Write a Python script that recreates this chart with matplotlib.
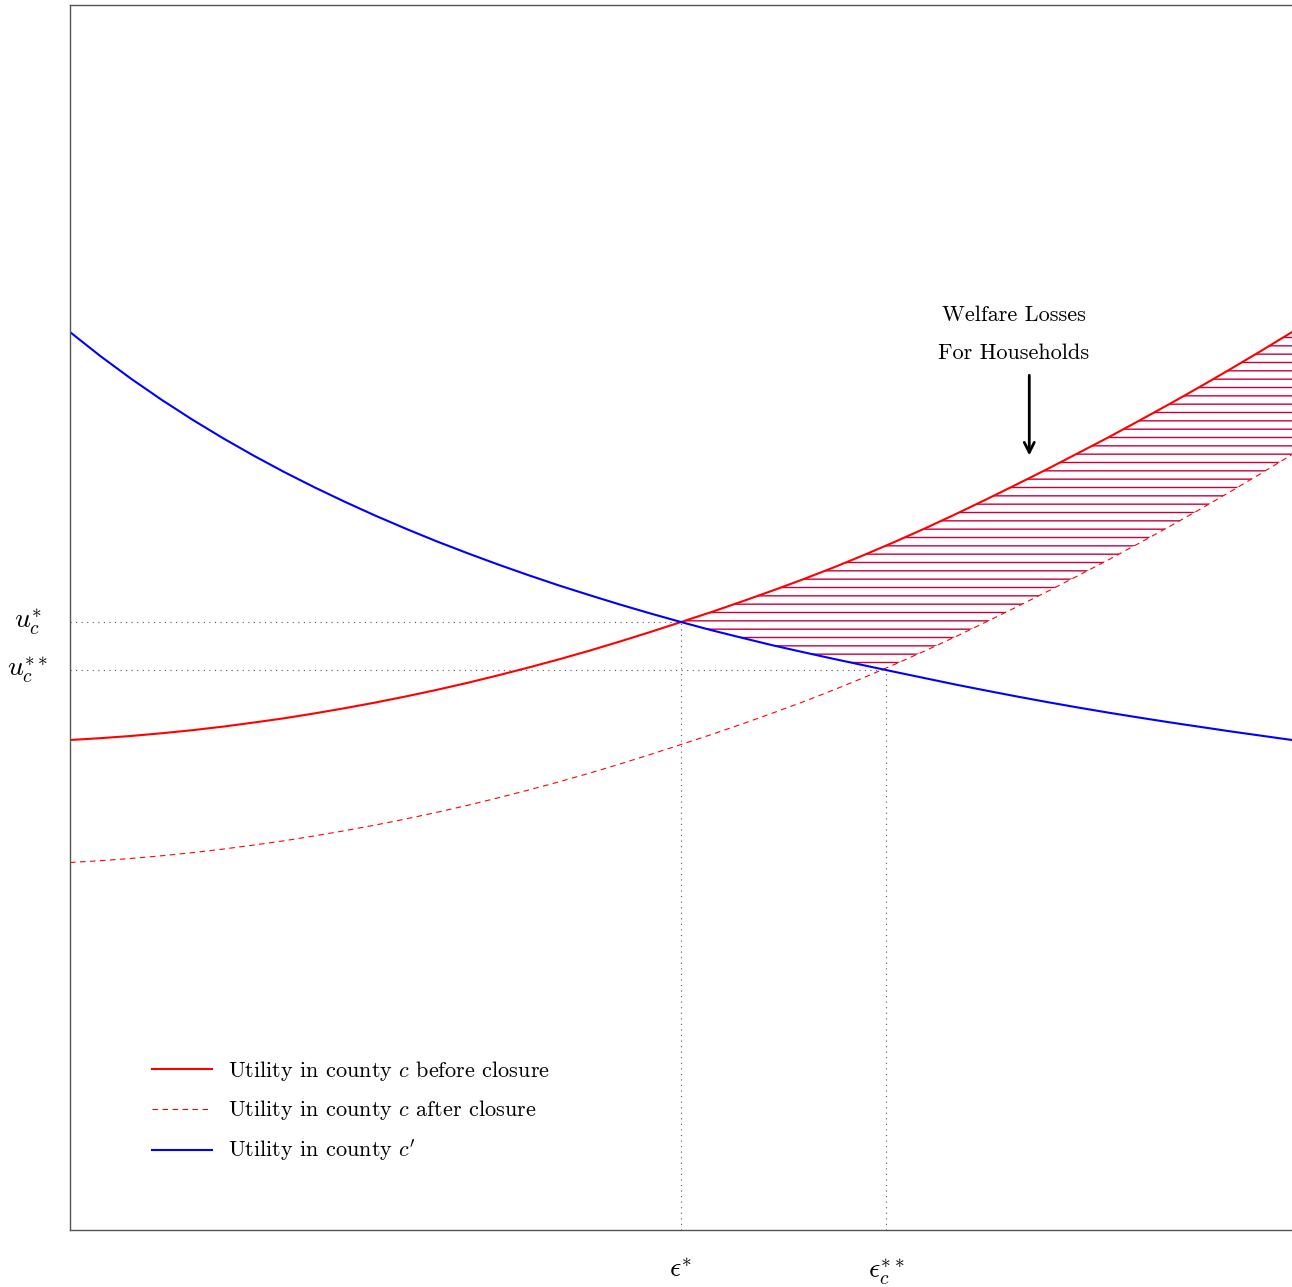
"""Welfare losses from a closure: utility curves in two counties."""

import matplotlib
matplotlib.use("Agg")
import matplotlib.pyplot as plt
import matplotlib.transforms as mtransforms
import numpy as np

plt.rcParams["font.family"] = "cmr10"
plt.rcParams["mathtext.fontset"] = "cm"
plt.rcParams["axes.formatter.use_mathtext"] = True
plt.rcParams["hatch.linewidth"] = 1.0

# epsilon grid and utility levels
eps = [0.0, 0.25, 0.5, 0.75, 1.0, 1.25, 1.5, 1.75, 2.0, 2.25,
       2.5, 2.75, 3.0, 3.25, 3.5, 3.75, 4.0, 4.25, 4.5, 4.75,
       5.0, 5.25, 5.5, 5.75, 6.0, 6.25, 6.5, 6.75, 7.0, 7.25,
       7.5, 7.75, 8.0, 8.25, 8.5, 8.75, 9.0, 9.25, 9.5, 9.75, 10.0]
u_before = [4.000, 4.015, 4.033, 4.055, 4.080, 4.109, 4.142, 4.177, 4.217, 4.260,
            4.306, 4.356, 4.409, 4.466, 4.527, 4.591, 4.658, 4.729, 4.804, 4.882,
            4.963, 5.045, 5.131, 5.220, 5.312, 5.409, 5.511, 5.618, 5.729, 5.845,
            5.965, 6.088, 6.213, 6.342, 6.472, 6.607, 6.744, 6.885, 7.030, 7.178, 7.330]
u_after = [3.000, 3.015, 3.033, 3.055, 3.080, 3.109, 3.142, 3.177, 3.217, 3.260,
           3.306, 3.356, 3.409, 3.466, 3.527, 3.591, 3.658, 3.729, 3.804, 3.882,
           3.963, 4.045, 4.131, 4.220, 4.312, 4.409, 4.511, 4.618, 4.729, 4.845,
           4.965, 5.088, 5.213, 5.342, 5.472, 5.607, 5.744, 5.885, 6.030, 6.178, 6.330]
u_other = [7.330, 7.133, 6.949, 6.777, 6.616, 6.465, 6.323, 6.189, 6.063, 5.944,
           5.831, 5.724, 5.622, 5.526, 5.434, 5.346, 5.262, 5.183, 5.106, 5.033,
           4.963, 4.896, 4.834, 4.773, 4.717, 4.662, 4.609, 4.556, 4.504, 4.452,
           4.403, 4.355, 4.309, 4.265, 4.223, 4.183, 4.144, 4.107, 4.070, 4.035, 4.000]

# equilibrium cut-offs before and after the closure
eps_star = 5.0
eps_star2 = 6.68
u_star = 4.963
u_star2 = 4.575

legend_labels = [
    r"Utility in county $c$ before closure",
    r"Utility in county $c$ after closure",
    r"Utility in county $c'$",
]
note_lines = ["Welfare Losses", "For Households"]

W, H = 1292, 1287
fig = plt.figure(figsize=(W / 100, H / 100), dpi=100)
ax = fig.add_axes([70 / W, 57 / H, 1222 / W, 1225 / H])
ax.set_xlim(0, 10)
ax.set_ylim(0, 10)

# hatched loss area: below the old curve, above the new one and county c'
x = np.array(eps)
top = np.array(u_before)
low = np.maximum(np.array(u_after), np.array(u_other))
ax.fill_between(x, low, top, where=x >= eps_star, interpolate=True,
                facecolor="none", edgecolor="#c8003c", hatch="--", linewidth=0)

ax.plot(eps, u_before, color="red", lw=1.5, label=legend_labels[0])
ax.plot(eps, u_after, color="red", lw=0.8, dashes=(5, 4), label=legend_labels[1])
ax.plot(eps, u_other, color="blue", lw=1.5, label=legend_labels[2])

dot = dict(color="#555555", lw=0.8, linestyle=(0, (1, 4)))
ax.plot([0, eps_star], [u_star, u_star], **dot)
ax.plot([0, eps_star2], [u_star2, u_star2], **dot)
ax.plot([eps_star, eps_star], [0, u_star], **dot)
ax.plot([eps_star2, eps_star2], [0, u_star2], **dot)

ax.set_xticks([eps_star, eps_star2], [r"$\epsilon^{*}$", r"$\epsilon_c^{**}$"],
              fontsize=20)
ax.set_yticks([])
ax.tick_params(length=0)
ax.tick_params(axis="x", pad=19)

# u labels centred in the left margin
left_margin = mtransforms.blended_transform_factory(fig.transFigure, ax.transData)
ax.text(28 / W, u_star, r"$u_c^{*}$", transform=left_margin,
        ha="center", va="center", fontsize=20)
ax.text(28 / W, u_star2, r"$u_c^{**}$", transform=left_margin,
        ha="center", va="center", fontsize=20)

for side in ["left", "top", "bottom"]:
    ax.spines[side].set_color("#555555")
    ax.spines[side].set_linewidth(1.0)
ax.spines["right"].set_visible(False)

ax.text(7.725, 7.469, note_lines[0], ha="center", va="center", fontsize=16)
ax.text(7.725, 7.159, note_lines[1], ha="center", va="center", fontsize=16)
ax.annotate("", xy=(7.85, 6.3), xytext=(7.85, 7.0),
            arrowprops=dict(arrowstyle="->", color="black", lw=2.0,
                            mutation_scale=18))

ax.legend(loc="lower left", bbox_to_anchor=(0.0507, 0.038), frameon=False,
          fontsize=16, handlelength=2.7, handletextpad=0.72, labelspacing=0.7)

fig.savefig("out.png", dpi=100)
